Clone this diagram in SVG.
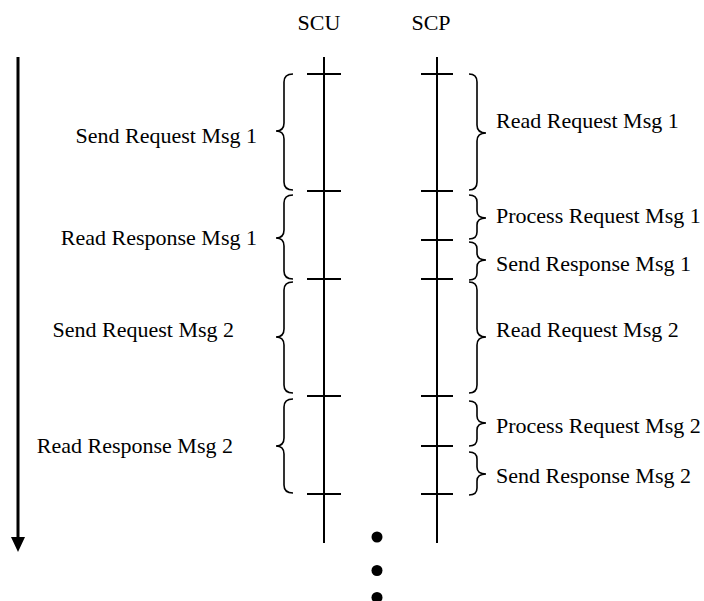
<svg xmlns="http://www.w3.org/2000/svg" width="704" height="601" viewBox="0 0 704 601">
<style>
text{font-family:"Liberation Serif","Times New Roman",serif;font-size:22px;fill:#000}
.l{text-anchor:end}
.c{text-anchor:middle}
.life{stroke:#000;stroke-width:2;fill:none}
.tick{stroke:#000;stroke-width:2;fill:none}
.brace{stroke:#000;stroke-width:1.6;fill:none}
.dot{fill:#000}
</style>
<rect width="704" height="601" fill="#fff"/>
<g id="connectors">
<g id="time-arrow">
<line x1="18" y1="57" x2="18" y2="540" stroke="#000" stroke-width="3"/>
<polygon points="11,537 25,537 18,552" fill="#000"/>
</g>
</g>
<g id="SCU">
<text class="c" x="319" y="30">SCU</text>
<line class="life" x1="324" y1="57" x2="324" y2="543"/>
<path class="tick" d="M307 74H341M307 191H341M307 279H341M307 396H341M307 494H341"/>
</g>
<g id="SCP">
<text class="c" x="431" y="30">SCP</text>
<line class="life" x1="437" y1="57" x2="437" y2="543"/>
<path class="tick" d="M421 74H453M421 191H453M421 240H453M421 279H453M421 396H453M421 446H453M421 494H453"/>
</g>
<g id="scu-send-req-1">
<path class="brace" d="M293 74Q284 74 284 82L284 123Q284 131 276 131Q284 131 284 139L284 182Q284 190 293 190"/>
<text class="l" x="257" y="143">Send Request Msg 1</text>
</g>
<g id="scu-read-resp-1">
<path class="brace" d="M293 195Q284 195 284 203L284 230Q284 238 276 238Q284 238 284 246L284 271Q284 279 293 279"/>
<text class="l" x="257" y="245">Read Response Msg 1</text>
</g>
<g id="scu-send-req-2">
<path class="brace" d="M293 282Q284 282 284 290L284 329Q284 337 276 337Q284 337 284 345L284 385Q284 393 293 393"/>
<text class="l" x="234" y="337">Send Request Msg 2</text>
</g>
<g id="scu-read-resp-2">
<path class="brace" d="M293 399Q284 399 284 407L284 438Q284 446 276 446Q284 446 284 454L284 485Q284 493 293 493"/>
<text class="l" x="233" y="453">Read Response Msg 2</text>
</g>
<g id="scp-read-req-1">
<path class="brace" d="M469 74Q477 74 477 82L477 125Q477 133 486 133Q477 133 477 141L477 182Q477 190 469 190"/>
<text x="496" y="128">Read Request Msg 1</text>
</g>
<g id="scp-proc-req-1">
<path class="brace" d="M469 195Q477 195 477 202L477 211Q477 218 486 218Q477 218 477 225L477 232Q477 239 469 239"/>
<text x="496" y="223">Process Request Msg 1</text>
</g>
<g id="scp-send-resp-1">
<path class="brace" d="M469 242Q477 242 477 249L477 253Q477 260 486 260Q477 260 477 267L477 273Q477 280 469 280"/>
<text x="496" y="271">Send Response Msg 1</text>
</g>
<g id="scp-read-req-2">
<path class="brace" d="M469 282Q477 282 477 290L477 329Q477 337 486 337Q477 337 477 345L477 385Q477 393 469 393"/>
<text x="496" y="337">Read Request Msg 2</text>
</g>
<g id="scp-proc-req-2">
<path class="brace" d="M469 401Q477 401 477 408L477 416Q477 423 486 423Q477 423 477 430L477 439Q477 446 469 446"/>
<text x="496" y="433">Process Request Msg 2</text>
</g>
<g id="scp-send-resp-2">
<path class="brace" d="M469 452Q477 452 477 459L477 467Q477 474 486 474Q477 474 477 481L477 488Q477 495 469 495"/>
<text x="496" y="483">Send Response Msg 2</text>
</g>
<g id="continuation">
<circle class="dot" cx="377" cy="537" r="5.5"/>
<circle class="dot" cx="377" cy="570.5" r="5.5"/>
<circle class="dot" cx="377" cy="597.5" r="5.5"/>
</g>
</svg>
